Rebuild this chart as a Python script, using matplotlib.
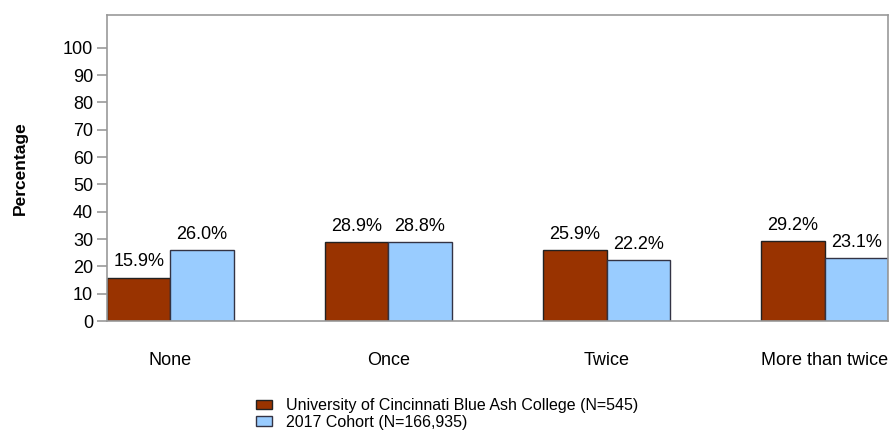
import matplotlib
matplotlib.use("Agg")
import matplotlib.pyplot as plt
import numpy as np

categories = ["None", "Once", "Twice", "More than twice"]
ucba = [15.9, 28.9, 25.9, 29.2]
cohort = [26.0, 28.8, 22.2, 23.1]
series_names = ["University of Cincinnati Blue Ash College (N=545)", "2017 Cohort (N=166,935)"]
yticks = [0, 10, 20, 30, 40, 50, 60, 70, 80, 90, 100]

plt.rcParams['font.family'] = ['Liberation Sans', 'DejaVu Sans']

fig = plt.figure(figsize=(8.89, 4.37), dpi=100)
ax = fig.add_axes([107/889, 1-321/437, (888-107)/889, (321-15)/437])

x = np.arange(len(categories))
w = 0.29
b1 = ax.bar(x - w/2, ucba, w, color='#993300', edgecolor='#222222', linewidth=1.0, label=series_names[0])
b2 = ax.bar(x + w/2, cohort, w, color='#99CCFF', edgecolor='#333344', linewidth=1.0, label=series_names[1])

for bars, vals in ((b1, ucba), (b2, cohort)):
    for r, v in zip(bars, vals):
        ax.text(r.get_x() + r.get_width()/2, v + 2.6, f"{v:.1f}%", ha='center', va='bottom', fontsize=13)

ax.set_xlim(-0.29, 3.29)
ax.set_ylim(0, 112)
ax.set_yticks(yticks)
ax.set_yticklabels([str(t) for t in yticks], fontsize=13)
ax.set_xticks(x)
ax.set_xticklabels(categories, fontsize=13)
ax.tick_params(axis='x', length=0, pad=22)
ax.tick_params(axis='y', length=7, color='#999999', width=1.2, pad=3)
for s in ax.spines.values():
    s.set_color('#999999')
    s.set_linewidth(1.2)
ax.set_ylabel("Percentage", fontsize=12.5, fontweight='bold', labelpad=25)

ax.legend(loc='upper left', bbox_to_anchor=(256/889, 1-398/437), bbox_transform=fig.transFigure,
          frameon=False, fontsize=11.5, handlelength=1.0, handleheight=0.55, handletextpad=0.85,
          labelspacing=0.1, borderaxespad=0, borderpad=0)

fig.savefig("out.png", dpi=100)
